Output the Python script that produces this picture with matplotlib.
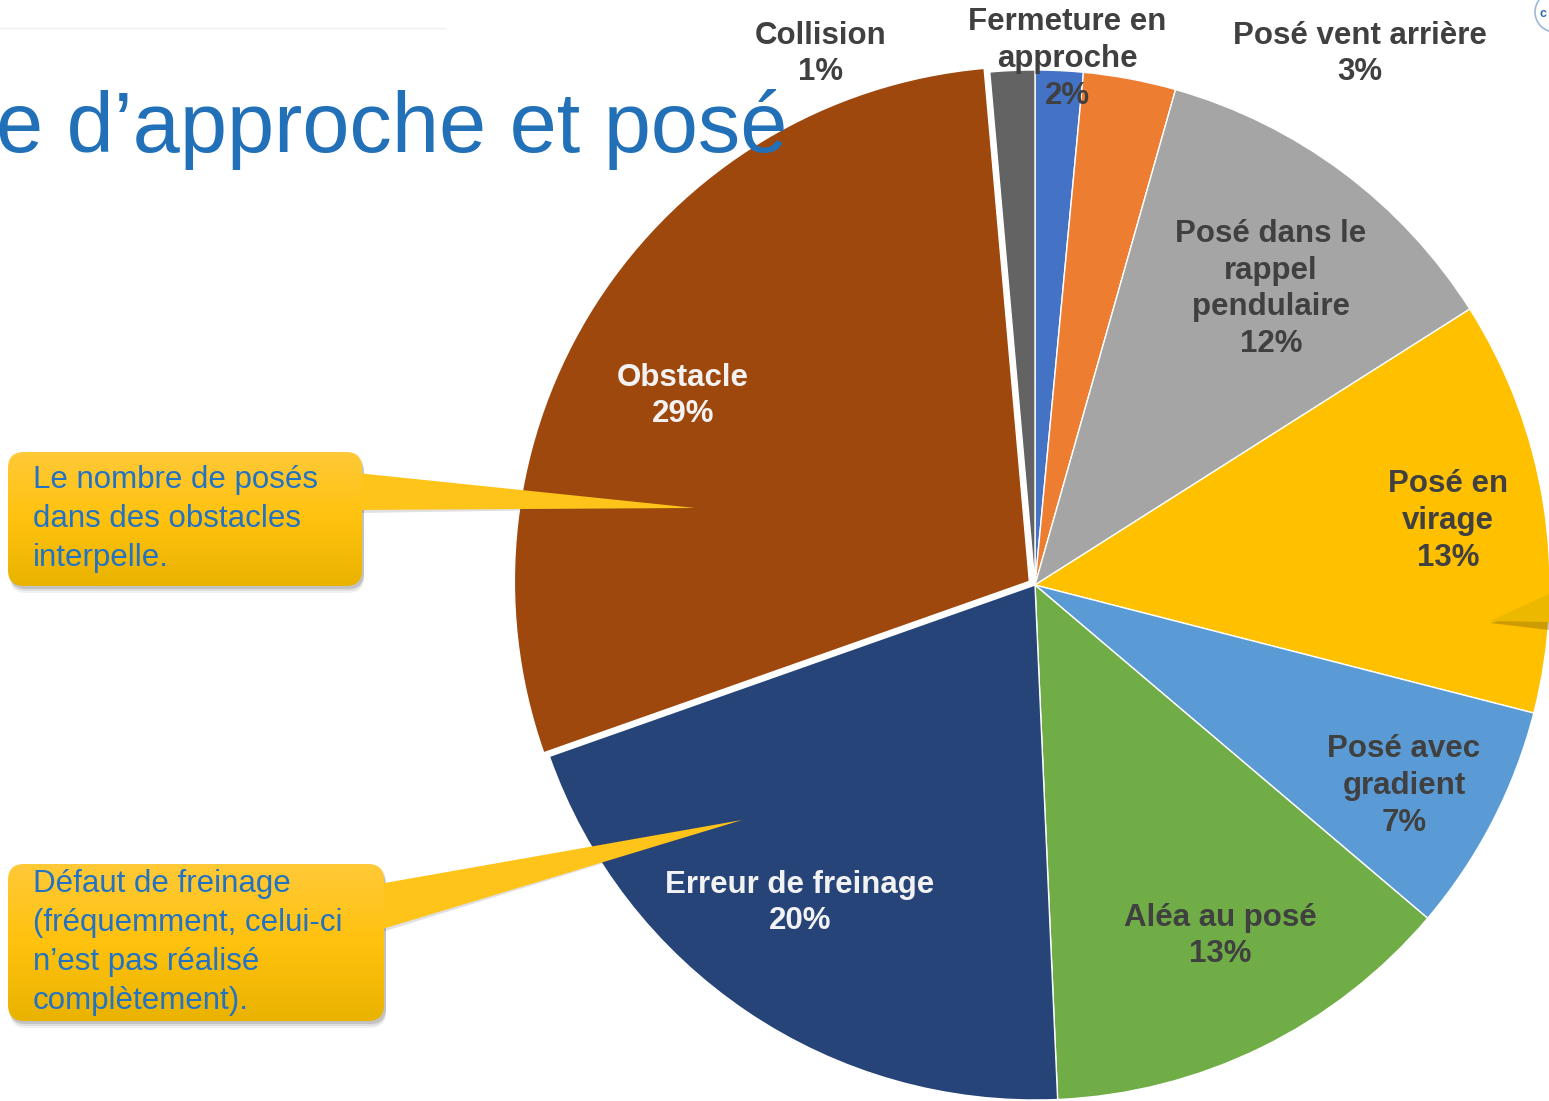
import numpy as np
import matplotlib.pyplot as plt
from matplotlib.patches import FancyBboxPatch, Polygon, Circle
from matplotlib.colors import LinearSegmentedColormap

plt.rcParams['font.family'] = ['Liberation Sans', 'DejaVu Sans']

# pie data, clockwise from 12 o'clock
categories = ["Fermeture en\napproche", "Posé vent arrière", "Posé dans le\nrappel\npendulaire",
              "Posé en\nvirage", "Posé avec\ngradient", "Aléa au posé", "Erreur de freinage",
              "Obstacle", "Collision"]
values = [1.5, 2.9, 11.6, 13.0, 7.2, 13.1, 20.3, 29.0, 1.4]
colors = ["#4472C4", "#ED7D31", "#A5A5A5", "#FFC000", "#5B9BD5", "#70AD47", "#264478",
          "#9E480E", "#636363"]
explode = [0, 0, 0, 0, 0, 0, 0, 0.013, 0]

title = "e d\u2019approche et posé"
note_obstacle = "Le nombre de posés\ndans des obstacles\ninterpelle."
note_freinage = "Défaut de freinage\n(fréquemment, celui-ci\nn\u2019est pas réalisé\ncomplètement)."

W, H = 1549, 1101
cx, cy, R = 1035, 585, 515   # pie centre / radius in pixels

fig = plt.figure(figsize=(W / 100, H / 100), dpi=100)
ax = fig.add_axes([0, 0, 1, 1])
ax.pie(values, colors=colors, explode=explode, startangle=90, counterclock=False,
       wedgeprops=dict(edgecolor="white", linewidth=1.0))
ax.set_xlim(-cx / R, (W - cx) / R)
ax.set_ylim(-(H - cy) / R, cy / R)
ax.axis("off")

# overlay in pixel coordinates
ov = fig.add_axes([0, 0, 1, 1], zorder=3)
ov.patch.set_alpha(0)
ov.axis("off")

# header remnants
ov.plot([0, 445], [28, 28], color="#EEEEEE", lw=1)
ov.add_patch(Circle((1555, 12), 20, facecolor="white", edgecolor="#9DB8D6", lw=1.2))
ov.text(1540, 14, "c", color="#2E6DAF", fontsize=9, fontweight="bold", va="center")

ov.text(-4, 152, title, fontsize=61, color="#2170B8", ha="left", va="baseline")

# pie labels
total = sum(values)
pct = [f"{round(v / total * 100)}%" for v in values]
label_pos = [(1067, 59), (1360, 54), (1271, 289), (1448, 521), (1404, 786),
             (1220, 936), (800, 903), (683, 396), (821, 54)]
label_col = ["#404040"] * 6 + ["#F2F2F2", "#F2F2F2", "#404040"]
for cat, p, (x, y), c in zip(categories, pct, label_pos, label_col):
    ov.text(x, y, cat + "\n" + p, ha="center", va="center", multialignment="center",
            fontsize=22.5, fontweight="bold", color=c, linespacing=1.3)


def callout(x0, y0, x1, y1, tip, base, text):
    # soft shadow
    for k, a in [(7, 0.08), (5, 0.12), (3, 0.2)]:
        ov.add_patch(FancyBboxPatch((x0 + 2, y0 + k), x1 - x0, y1 - y0,
                                    boxstyle="round,pad=0,rounding_size=16",
                                    facecolor="#555555", edgecolor="none", alpha=a, zorder=1))
    ov.add_patch(Polygon([(x1 - 5, base[0] + 3), tip, (x1 - 5, base[1] + 3)],
                         closed=True, facecolor="#555555", edgecolor="none", alpha=0.18, zorder=1))
    ov.add_patch(Polygon([(x1 - 5, base[0]), tip, (x1 - 5, base[1])], closed=True,
                         facecolor="#FFC41A", edgecolor="none", zorder=2))
    box = FancyBboxPatch((x0, y0), x1 - x0, y1 - y0, boxstyle="round,pad=0,rounding_size=16",
                         facecolor="none", edgecolor="none", zorder=3)
    ov.add_patch(box)
    grad = np.linspace(0, 1, 100).reshape(-1, 1)
    cmap = LinearSegmentedColormap.from_list("yl", ["#FFC937", "#FFC20E", "#E9B300"])
    im = ov.imshow(grad, cmap=cmap, extent=[x0, x1, y1, y0], aspect="auto", zorder=3)
    im.set_clip_path(box)
    ov.text(x0 + 25, (y0 + y1) / 2, text, ha="left", va="center", fontsize=22.5,
            color="#2473C2", linespacing=1.38, zorder=4)


callout(8, 452, 362, 586, (695, 508), (473, 510), note_obstacle)
callout(8, 864, 384, 1021, (742, 820), (884, 930), note_freinage)

# third pointer coming from the right edge
ov.add_patch(Polygon([(1490, 623), (W, 608), (W, 630)], closed=True,
                     facecolor="#5A4A10", edgecolor="none", alpha=0.3, zorder=1))
ov.add_patch(Polygon([(1490, 621), (W, 594), (W, 622)], closed=True,
                     facecolor="#EDB800", edgecolor="none", zorder=2))

ov.set_xlim(0, W)
ov.set_ylim(H, 0)

fig.savefig("out.png", dpi=100)
